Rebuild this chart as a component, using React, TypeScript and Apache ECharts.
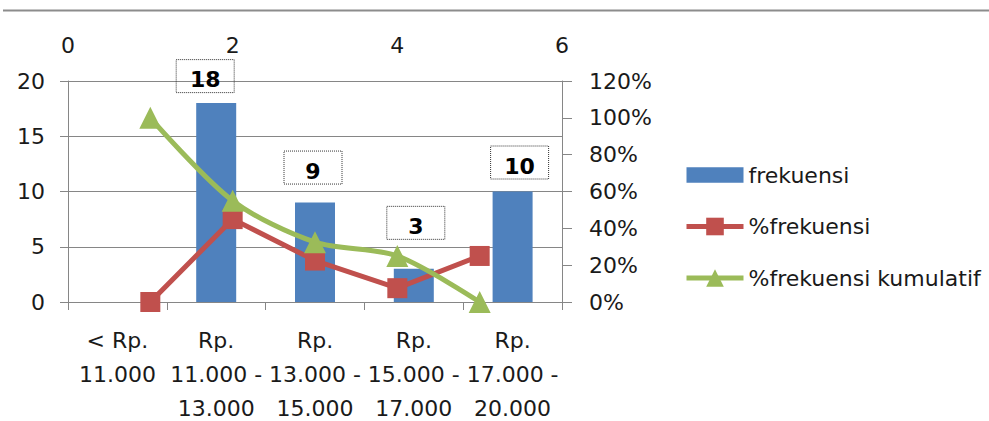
import React, { useEffect, useRef } from "react";
import * as echarts from "echarts";

const categories = [
  "< Rp.\n11.000",
  "Rp.\n11.000 -\n13.000",
  "Rp.\n13.000 -\n15.000",
  "Rp.\n15.000 -\n17.000",
  "Rp.\n17.000 -\n20.000",
];
const frekuensi = [0, 18, 9, 3, 10];
const persenFrekuensi = [0, 0.45, 0.225, 0.075, 0.25];
const persenKumulatif = [1.0, 0.55, 0.325, 0.25, 0];
const linePositions = [1, 2, 3, 4, 5];
const labelOffsets: [number, number][] = [
  [0, 0],
  [-11, -16],
  [-2, -24],
  [2, -35],
  [7, -18],
];

const FONT = "DejaVu Sans";
const GREY = "#868686";

export default function App() {
  const ref = useRef<HTMLDivElement>(null);
  useEffect(() => {
    if (!ref.current) return;
    const chart = echarts.init(ref.current, undefined, { renderer: "svg" });
    const barData = frekuensi.map((v, i) => ({
      value: v,
      label: {
        show: v > 0,
        offset: labelOffsets[i],
      },
    }));
    chart.setOption({
      animation: false,
      backgroundColor: "#fff",
      textStyle: { fontFamily: FONT },
      grid: {
        left: 68,
        top: 81,
        width: 494,
        height: 221,
        containLabel: false,
        outerBoundsMode: "none",
      },
      graphic: [
        {
          type: "line",
          shape: { x1: 3, y1: 10.5, x2: 989, y2: 10.5 },
          style: { stroke: "#8c8c8c", lineWidth: 2 },
        },
      ],
      legend: {
        orient: "vertical",
        left: 679,
        top: 159,
        itemWidth: 57,
        itemHeight: 22,
        itemGap: 29.5,
        lineStyle: { width: 5 },
        textStyle: { fontFamily: FONT, fontSize: 22, color: "#1a1a1a", lineHeight: 22 },
        data: [
          { name: "frekuensi", icon: "path://M0,0h56v15h-56z" },
          { name: "%frekuensi" },
          { name: "%frekuensi kumulatif" },
        ],
      },
      xAxis: [
        {
          type: "category",
          data: categories,
          position: "bottom",
          boundaryGap: true,
          axisLine: { lineStyle: { color: GREY, width: 1 } },
          axisTick: { show: true, length: 8, lineStyle: { color: GREY } },
          axisLabel: {
            fontFamily: FONT,
            fontSize: 22,
            lineHeight: 34,
            color: "#1a1a1a",
            margin: 21,
            interval: 0,
          },
          splitLine: { show: false },
        },
        {
          type: "value",
          position: "top",
          min: 0,
          max: 6,
          interval: 2,
          axisLine: { show: true, lineStyle: { color: GREY, width: 1 } },
          axisTick: { show: true, length: 9, lineStyle: { color: GREY } },
          axisLabel: { fontFamily: FONT, fontSize: 22, color: "#1a1a1a", margin: 25 },
          splitLine: { show: false },
        },
      ],
      yAxis: [
        {
          type: "value",
          min: 0,
          max: 20,
          interval: 5,
          position: "left",
          axisLine: { show: true, lineStyle: { color: GREY, width: 1 } },
          axisTick: { show: true, length: 8, lineStyle: { color: GREY } },
          axisLabel: { fontFamily: FONT, fontSize: 22, color: "#1a1a1a", margin: 23 },
          splitLine: { show: true, lineStyle: { color: GREY, width: 1 } },
        },
        {
          type: "value",
          min: 0,
          max: 1.2,
          interval: 0.2,
          position: "right",
          axisLine: { show: true, lineStyle: { color: GREY, width: 1 } },
          axisTick: { show: true, length: 10, lineStyle: { color: GREY } },
          axisLabel: {
            fontFamily: FONT,
            fontSize: 22,
            color: "#1a1a1a",
            margin: 27,
            formatter: (v: number) => `${Math.round(v * 100)}%`,
          },
          splitLine: { show: false },
        },
      ],
      series: [
        {
          name: "frekuensi",
          type: "bar",
          xAxisIndex: 0,
          yAxisIndex: 0,
          data: barData,
          barWidth: 40,
          itemStyle: { color: "#4F81BD" },
          label: {
            show: true,
            position: "top",
            distance: 0,
            formatter: (p: any) => `{v|${p.value}}`,
            rich: {
              v: {
                width: 58,
                lineHeight: 22,
                padding: [9, 0, 2, 0],
                align: "center",
                fontFamily: FONT,
                fontSize: 22,
                fontWeight: "bold",
                color: "#000",
                borderColor: "#333",
                borderWidth: 1,
                borderType: "dotted",
              },
            },
          },
          z: 1,
        },
        {
          name: "%frekuensi",
          type: "line",
          xAxisIndex: 1,
          yAxisIndex: 1,
          data: linePositions.map((x, i) => [x, persenFrekuensi[i]]),
          symbol: "rect",
          symbolSize: 20,
          lineStyle: { color: "#C0504D", width: 5 },
          itemStyle: { color: "#C0504D" },
          z: 3,
        },
        {
          name: "%frekuensi kumulatif",
          type: "line",
          xAxisIndex: 1,
          yAxisIndex: 1,
          data: linePositions.map((x, i) => [x, persenKumulatif[i]]),
          smooth: 0.3,
          symbol: "triangle",
          symbolSize: 22,
          lineStyle: { color: "#9BBB59", width: 5 },
          itemStyle: { color: "#9BBB59" },
          z: 4,
        },
      ],
    });
    return () => chart.dispose();
  }, []);
  return (
    <div
      ref={ref}
      style={{ position: "absolute", left: 0, top: 0, width: 989, height: 421 }}
    />
  );
}
